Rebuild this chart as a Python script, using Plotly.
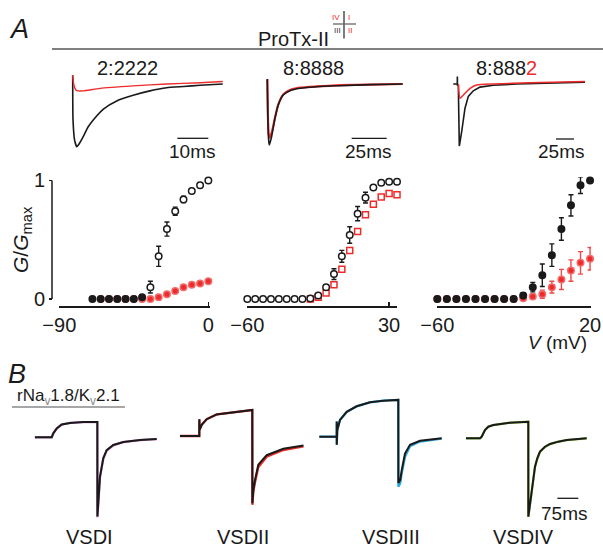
import plotly.graph_objects as go

W, H = 603, 549
FONT = "Liberation Sans, Arial, Helvetica, sans-serif"
INK = "#1a1a1a"
RED = "#ee2b2b"
VIOLET = "#c77cc7"
BLUE = "#29a9e1"
GREEN = "#8cc63f"

# ---------------- Panel A: current traces (time in ms, current normalised) ----------------
a1_t_ctrl = [0, 0.1, 0.6, 1.3, 2.0, 3.4, 4.9, 6.7, 9.9, 14.2, 19.5, 24.9, 30.3, 35.7, 41.1, 48.4]
a1_ctrl = [0.14, -0.57, -0.89, -1.0, -0.96, -0.84, -0.69, -0.57, -0.40, -0.27, -0.18, -0.11, -0.06, -0.04, -0.02, 0.0]
a1_t_tx = [0, 0.4, 1.1, 1.8, 3.4, 8.8, 19.5, 30.3, 41.1, 48.4]
a1_tx = [0.14, -0.02, -0.10, -0.11, -0.11, -0.07, -0.03, 0.0, 0.02, 0.04]

a2_t = [0, 0.36, 0.9, 1.43, 3.1, 5.5, 7.9, 11.4, 16.2, 23.4, 35.3, 51.9, 73.4, 96.7]
a2_ctrl = [0.08, -0.5, -0.9, -1.0, -0.86, -0.56, -0.34, -0.18, -0.11, -0.07, -0.044, -0.028, -0.011, 0.0]
a2_tx = [0.08, -0.45, -0.8, -0.88, -0.8, -0.55, -0.33, -0.17, -0.10, -0.06, -0.04, -0.02, -0.01, 0.0]

a3_t_ctrl = [-7, -1.4, -1.3, -1.2, 0, 1.4, 4.7, 9.3, 13.9, 20.8, 30.1, 48.6, 81.1, 127.4, 176]
a3_ctrl = [0, 0, 0.12, -0.03, 0, -1.0, -0.77, -0.39, -0.20, -0.11, -0.05, -0.02, 0, 0.01, 0.03]
a3_t_tx = [0, 2.4, 9.3, 16.3, 25.6, 48.2, 100, 176]
a3_tx = [0, -0.23, -0.15, -0.07, -0.016, 0, 0.02, 0.04]

trace_titles = ["2:2222", "8:8888", "8:888<span style='color:%s'>2</span>" % RED]
scale_labels_A = ["10ms", "25ms", "25ms"]

# ---------------- Panel A: G/Gmax vs V ----------------
v1 = [-70, -65, -60, -55, -50, -45, -40, -35, -30, -25, -20, -15, -10, -5, 0]
g1_ctrl = [0, 0, 0, 0, 0, 0, 0.015, 0.10, 0.36, 0.59, 0.74, 0.84, 0.91, 0.96, 1.0]
e1_ctrl = [0, 0, 0, 0, 0, 0, 0, 0.05, 0.085, 0.06, 0.035, 0.027, 0.015, 0.01, 0]
v1_tx = [-65, -60, -55, -50, -45, -40, -35, -30, -25, -20, -15, -10, -5, 0]
g1_tx = [0, 0, 0, 0, 0, 0, 0, 0.015, 0.04, 0.067, 0.10, 0.12, 0.13, 0.15]

v2 = [-60, -55, -50, -45, -40, -35, -30, -25, -20, -15, -10, -5, 0, 5, 10, 15, 20, 25, 30, 35]
g2_ctrl = [0, 0, 0, 0, 0, 0, 0, 0, 0.005, 0.03, 0.10, 0.21, 0.36, 0.54, 0.72, 0.855, 0.94, 0.98, 0.99, 0.99]
e2_ctrl = [0, 0, 0, 0, 0, 0, 0, 0, 0, 0, 0.02, 0.045, 0.05, 0.07, 0.06, 0.045, 0.015, 0.01, 0, 0]
v2_tx = [-20, -15, -10, -5, 0, 5, 10, 15, 20, 25, 30, 35]
g2_tx = [0.0, 0.015, 0.05, 0.12, 0.25, 0.41, 0.57, 0.71, 0.80, 0.86, 0.89, 0.88]

v3 = [-60, -55, -50, -45, -40, -35, -30, -25, -20, -15, -10, -5, 0, 5, 10, 15, 20]
g3_ctrl = [0, 0, 0, 0, 0, 0, 0, 0, 0, 0.03, 0.10, 0.20, 0.37, 0.59, 0.79, 0.96, 1.0]
e3_ctrl = [0, 0, 0, 0, 0, 0, 0, 0, 0, 0.02, 0.04, 0.095, 0.095, 0.095, 0.09, 0.07, 0]
g3_tx = [0, 0, 0, 0, 0, 0, 0, 0, 0, 0.006, 0.02, 0.04, 0.10, 0.165, 0.24, 0.305, 0.34]
e3_tx = [0, 0, 0, 0, 0, 0, 0, 0, 0, 0, 0.01, 0.035, 0.05, 0.085, 0.09, 0.095, 0.095]

# ---------------- Panel B: chimera traces (time in ms, current normalised) ----------------
b1_t = [-60, 0, 5.7, 17.9, 35.7, 65.4, 112.9, 163, 163.3, 169, 172.5, 178.6, 184.3, 196.4, 220, 255.7, 315.4, 375]
b1_ctrl = [0, 0, 0.05, 0.11, 0.16, 0.18, 0.19, 0.19, -0.99, -0.66, -0.49, -0.37, -0.26, -0.16, -0.096, -0.059, -0.034, -0.021]
b1_tx = [0, 0, 0.05, 0.11, 0.16, 0.18, 0.19, 0.19, -1.0, -0.68, -0.5, -0.38, -0.27, -0.165, -0.1, -0.06, -0.035, -0.022]

b2_t = [-69, 0, 0.3, 0.6, 8.6, 26.4, 62.1, 121.4, 189.3, 189.6, 192.9, 198.9, 210.7, 240.7, 300, 372]
b2_ctrl = [0, 0, 0.21, 0.075, 0.14, 0.21, 0.27, 0.30, 0.325, -0.84, -0.675, -0.55, -0.36, -0.24, -0.16, -0.12]
b2_tx = [0, 0, 0.21, 0.075, 0.14, 0.21, 0.27, 0.30, 0.325, -0.86, -0.70, -0.58, -0.39, -0.26, -0.175, -0.13]

b3_t = [-62, 0, 0.1, 0.3, 2.1, 11.8, 35.7, 71.4, 118.9, 166.4, 216.4, 220, 220.3, 227, 232.1, 237.9, 243.9, 261.8, 297.5, 375]
b3_ctrl = [0, 0, 0.19, -0.10, 0.084, 0.21, 0.31, 0.38, 0.43, 0.45, 0.46, 0.46, -0.58, -0.54, -0.42, -0.31, -0.21, -0.10, -0.05, -0.02]
b3_tx = [0, 0, 0.19, -0.10, 0.084, 0.21, 0.31, 0.38, 0.43, 0.45, 0.46, 0.46, -0.625, -0.58, -0.46, -0.35, -0.25, -0.12, -0.06, -0.025]

b4_t = [-50, 0, 6, 17.9, 29.6, 47.5, 107, 172.5, 172.7, 178.6, 184.6, 190.4, 196.4, 204.6, 214.3, 232.1, 250, 279.6, 309.6, 381]
b4_ctrl = [0, 0, 0.02, 0.104, 0.145, 0.166, 0.195, 0.207, -0.98, -0.81, -0.646, -0.48, -0.355, -0.25, -0.167, -0.105, -0.071, -0.042, -0.021, 0]
b4_tx = [0, 0, 0.02, 0.104, 0.145, 0.166, 0.195, 0.207, -0.98, -0.82, -0.66, -0.49, -0.36, -0.255, -0.17, -0.108, -0.073, -0.043, -0.022, 0]

vsd_labels = ["VSDI", "VSDII", "VSDIII", "VSDIV"]
vsd_colors = [VIOLET, RED, BLUE, GREEN]

# ---------------- helpers ----------------
fig = go.Figure()


def px(x):
    return x / W


def py(y):
    return 1 - y / H


def names(i):
    return ("xaxis" if i == 1 else f"xaxis{i}", "yaxis" if i == 1 else f"yaxis{i}",
            "x" if i == 1 else f"x{i}", "y" if i == 1 else f"y{i}")


def trace_axis(i, box, p0, s, yb, k):
    """hidden axis: box in pixels, p0 = pixel of t=0, s = px per ms, yb = baseline pixel, k = px per unit"""
    x0, x1, ytop, ybot = box
    xn, yn, xr, yr = names(i)
    fig.update_layout(**{
        xn: dict(domain=[px(x0), px(x1)], range=[(x0 - p0) / s, (x1 - p0) / s], visible=False,
                 anchor=yr, fixedrange=True, automargin=False),
        yn: dict(domain=[py(ybot), py(ytop)], range=[(yb - ybot) / k, (yb - ytop) / k], visible=False,
                 anchor=xr, fixedrange=True, automargin=False),
    })
    return xr, yr


GV_TOP, GV_BOT, GV_RANGE = 176.9, 306.1, [-0.06, 1.03]


def gv_axis(i, x0, x1, xrange, tickvals):
    xn, yn, xr, yr = names(i)
    fig.update_layout(**{
        xn: dict(domain=[px(x0), px(x1)], range=xrange, showline=True, linecolor=INK, linewidth=1.5,
                 ticks="inside", ticklen=4, tickwidth=1.5, tickcolor=INK, tickvals=tickvals,
                 tickfont=dict(size=20, family=FONT, color=INK), showgrid=False, zeroline=False,
                 anchor=yr, fixedrange=True, automargin=False),
        yn: dict(domain=[py(GV_BOT), py(GV_TOP)], range=GV_RANGE, visible=False, anchor=xr,
                 fixedrange=True, automargin=False),
    })
    return xr, yr


def line(xr, yr, t, v, color, w, shape="spline"):
    fig.add_trace(go.Scatter(x=t, y=v, xaxis=xr, yaxis=yr, mode="lines",
                             line=dict(color=color, width=w, shape=shape, smoothing=0.5),
                             hoverinfo="skip", showlegend=False))


def pts(xr, yr, v, g, err, symbol, fill, edge, ecolor, size=6.5):
    fig.add_trace(go.Scatter(
        x=v, y=g, xaxis=xr, yaxis=yr, mode="markers", cliponaxis=False,
        marker=dict(symbol=symbol, size=size, color=fill, line=dict(color=edge, width=1.5)),
        error_y=dict(type="data", array=err, visible=err is not None, color=ecolor, thickness=1.4, width=2.5),
        hoverinfo="skip", showlegend=False))


def txt(x, y, s, size, color=INK, angle=0, xanchor="center"):
    fig.add_annotation(x=px(x), y=py(y), xref="paper", yref="paper", text=s, showarrow=False,
                       font=dict(size=size, color=color, family=FONT), xanchor=xanchor,
                       yanchor="middle", textangle=angle)


def seg(x0, y0, x1, y1, color=INK, w=1.4):
    fig.add_shape(type="line", xref="paper", yref="paper", x0=px(x0), y0=py(y0), x1=px(x1), y1=py(y1),
                  line=dict(color=color, width=w))


# ---------------- Panel A traces ----------------
xr, yr = trace_axis(1, (55, 235, 60, 165), 72.7, 3.1, 84, 62.7)
line(xr, yr, a1_t_ctrl, a1_ctrl, INK, 1.6)
line(xr, yr, a1_t_tx, a1_tx, RED, 1.4)

xr, yr = trace_axis(2, (250, 410, 60, 165), 267.3, 1.4, 84, 61)
line(xr, yr, a2_t, a2_tx, RED, 2.2)
line(xr, yr, a2_t, a2_ctrl, INK, 1.6)

xr, yr = trace_axis(3, (440, 600, 60, 165), 458.3, 0.72, 84, 62)
line(xr, yr, a3_t_ctrl, a3_ctrl, INK, 1.6, shape="linear")
line(xr, yr, a3_t_tx, a3_tx, RED, 1.5)

# titles and scale bars
for cx, s in zip([127, 313, 507], trace_titles):
    txt(cx, 68, s, 20)
for (bx0, bx1, by, lx), s in zip([(177.3, 208.3, 138.3, 192), (351.7, 386.7, 138.3, 368),
                                   (556, 574, 139, 561)], scale_labels_A):
    seg(bx0, by, bx1, by, INK, 1.3)
    txt(lx, 152, s, 19)

# ---------------- Panel A G-V ----------------
xr, yr = gv_axis(4, 59.3, 210, [-90, 1.0], [-90, 0])
fig.update_layout(yaxis4=dict(domain=[py(GV_BOT), py(GV_TOP)], range=GV_RANGE, visible=True, showline=False,
                              ticks="outside", ticklen=3, tickwidth=1.5, tickcolor=INK, tickvals=[0, 1],
                              ticktext=["0", "1"], tickfont=dict(size=20, family=FONT, color=INK),
                              showgrid=False, zeroline=False, anchor="free", position=px(52),
                              fixedrange=True, automargin=False))
fig.add_shape(type="line", xref="paper", yref="y4", x0=px(52), x1=px(52), y0=0, y1=1,
              line=dict(color=INK, width=1.5))
fill1 = [INK if v < -35 else "white" for v in v1]
pts(xr, yr, v1_tx, g1_tx, None, "circle", RED, "#f26a6a", RED)
pts(xr, yr, v1, g1_ctrl, e1_ctrl, "circle", fill1, INK, INK)

xr, yr = gv_axis(5, 247.3, 397, [-60, 35], [-60, 30])
pts(xr, yr, v2_tx, g2_tx, None, "square", "white", RED, RED, size=6)
pts(xr, yr, v2, g2_ctrl, e2_ctrl, "circle", "white", INK, INK)

xr, yr = gv_axis(6, 437.3, 591, [-60, 20.5], [-60, 20])
pts(xr, yr, v3, g3_tx, e3_tx, "circle", RED, "#f26a6a", "#f04848")
pts(xr, yr, v3, g3_ctrl, e3_ctrl, "circle", INK, INK, INK)

txt(22, 240, "<i>G</i>/<i>G</i><sub>max</sub>", 21, angle=-90)
txt(557, 342, "<i>V</i> (mV)", 19)

# header of panel A
txt(19, 29, "<i>A</i>", 27)
seg(52, 49, 603, 49, "#808080", 2.2)
txt(293, 39, "ProTx-II", 20)
seg(344, 11, 344, 38.6, "#333333", 1.3)
seg(333, 24, 356, 24, "#666666", 1.3)
txt(336, 17, "IV", 8, RED)
txt(349, 17, "I", 8, RED)
txt(337.5, 31, "III", 8, "#333333")
txt(350, 31, "II", 8, RED)

# ---------------- Panel B ----------------
txt(17, 374, "<i>B</i>", 27)
txt(68, 397, "rNa<sub><span style='color:#888'>v</span></sub>1.8/K<sub><span style='color:#888'>v</span></sub>2.1", 17)
seg(12, 407, 125, 407, "#8a8a8a", 1.6)

b_sets = [(b1_t, b1_ctrl, b1_tx, 51.7, 437.3, (25, 175)),
          (b2_t, b2_ctrl, b2_tx, 199.3, 436.0, (170, 320)),
          (b3_t, b3_ctrl, b3_tx, 336.7, 436.7, (310, 460)),
          (b4_t, b4_ctrl, b4_tx, 480.0, 438.3, (455, 600))]
for j, ((t, ctrl, tx, p0, yb, (bx0, bx1)), col) in enumerate(zip(b_sets, vsd_colors)):
    xr, yr = trace_axis(7 + j, (bx0, bx1, 390, 530), p0, 0.28, yb, 80)
    line(xr, yr, t, tx, col, 2.3, shape="linear")
    line(xr, yr, t, ctrl, INK, 2.0, shape="linear")

for cx, s in zip([89, 243, 391, 523], vsd_labels):
    txt(cx, 537, s, 20)
seg(557.3, 498.3, 578.3, 498.3, INK, 1.3)
txt(564, 513, "75ms", 19)

fig.update_layout(template="none", width=W, height=H, margin=dict(l=0, r=0, t=0, b=0, pad=0),
                  paper_bgcolor="white", plot_bgcolor="white", showlegend=False,
                  font=dict(family=FONT, color=INK))
fig.write_html("out.html", config={"displayModeBar": False, "staticPlot": True},
               post_script="document.body.style.margin='0px';document.body.style.padding='0px';"
                           "document.body.style.overflow='hidden';")
